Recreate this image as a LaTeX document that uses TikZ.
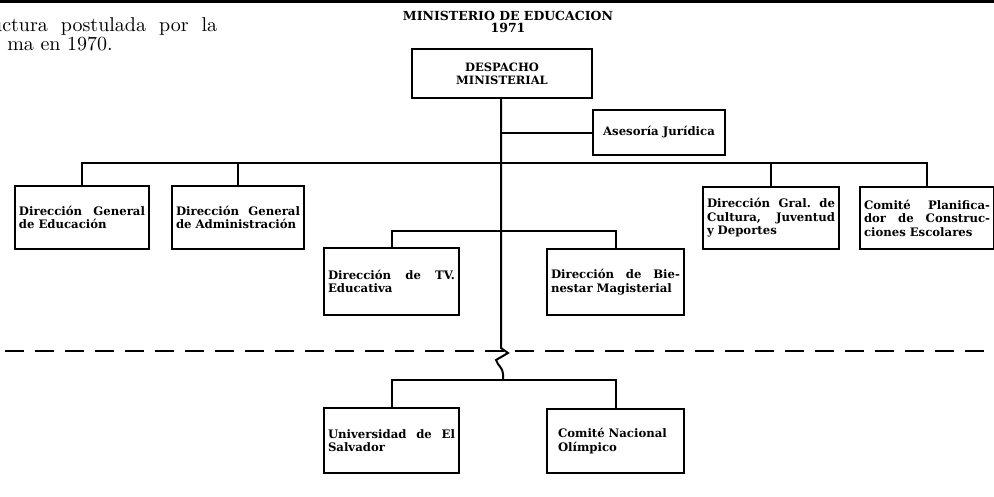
\documentclass[tikz,border=0pt]{standalone}
\usepackage{fontspec}
\newfontfamily\cajafont{DejaVu Serif}
\newfontfamily\parrafont{lmroman10-regular.otf}
\usepackage{tikz}
\usetikzlibrary{calc}

\begin{document}
\begin{tikzpicture}[x=1pt,y=-1pt,
		caja/.style={draw,line width=2pt,anchor=north west,inner xsep=4pt,inner ysep=0pt,
			align=left,font=\cajafont\fontsize{11.7}{13.5}\selectfont\bfseries},
		cabeza/.style={draw,line width=2pt,anchor=north west,inner sep=0pt,
			align=center,font=\cajafont\fontsize{11.5}{13}\selectfont\bfseries},
		parrafo/.style={inner sep=0pt,font=\parrafont\fontsize{20}{21}\selectfont},
		linea/.style={line width=2pt}]
		\useasboundingbox (0,0) rectangle (994,496);
		\draw[line width=3pt] (0,1) -- (994,1);
		
		% texto y titulo
		\node[parrafo,anchor=base west,text width=226pt,align=left] (parr1) at (-9,31) {uctura\hfill postulada\hfill por\hfill la};
		\node[parrafo,anchor=base east] (parr2) at (113,50) {ma en 1970.};
		\node[align=center,inner sep=0pt,font=\cajafont\fontsize{12.5}{12}\selectfont\bfseries] (tit) at (508,22) {MINISTERIO DE EDUCACION\\1971};
		
		% cajas
		\node[cabeza,minimum width=180pt,minimum height=49pt] (dm) at (411,48) {DESPACHO\\MINISTERIAL};
		\node[cabeza,minimum width=132pt,minimum height=45pt,font=\cajafont\fontsize{11.7}{13.5}\selectfont\bfseries] (aj) at (592,109) {Asesoría Jurídica};
		\node[caja,text width=126pt,minimum height=63pt] (dge) at (14,185) {Dirección\hfill General\\de Educación};
		\node[caja,text width=124pt,minimum height=63pt] (dga) at (171,185) {Dirección\hfill General\\de Administración};
		\node[caja,text width=128pt,minimum height=62pt] (dcj) at (702,186) {Dirección\hfill Gral.\hfill de\\Cultura,\hfill Juventud\\y Deportes};
		\node[caja,text width=126pt,minimum height=62pt] (cpc) at (859,186) {Comité\hfill Planifica-\\dor\hfill de\hfill Construc-\\ciones Escolares};
		\node[caja,text width=127pt,minimum height=67pt] (dtv) at (323,247) {Dirección\hfill de\hfill TV.\\Educativa};
		\node[caja,text width=129pt,minimum height=66pt] (dbm) at (546,248) {Dirección\hfill de\hfill Bie-\\nestar Magisterial};
		\node[caja,text width=127pt,minimum height=65pt] (ues) at (323,407) {Universidad\hfill de\hfill El\\Salvador};
		\node[caja,inner xsep=11pt,text width=115pt,minimum height=64pt] (cno) at (546,408) {Comité Nacional\\Olímpico};
		
		% puntos de union
		\coordinate (b1) at (501,163);
		\coordinate (b2) at (501,231);
		\coordinate (corte) at (501,348);
		\coordinate (b3) at (503,380);
		
		% conectores
		\draw[linea] (dm.south -| corte) -- (corte) -- ++(7,5) -- ++(-12,7)
			.. controls (498,366) and (503,368) .. (503,374) -- (b3);
		\draw[linea] (aj.west) -- (aj.west -| corte);
		\draw[linea] (dge.north) |- (b1) -| (cpc.north);
		\draw[linea] (dga.north) -- (dga.north |- b1);
		\draw[linea] (dcj.north) -- (dcj.north |- b1);
		\draw[linea] (dtv.north) |- (b2) -| (dbm.north);
		\draw[linea] (ues.north) |- (b3) -| (cno.north);
		
		% linea de corte
		\draw[line width=2pt,dash pattern=on 19pt off 11pt] (5,351) -- (994,351);
	\end{tikzpicture}
\end{document}
